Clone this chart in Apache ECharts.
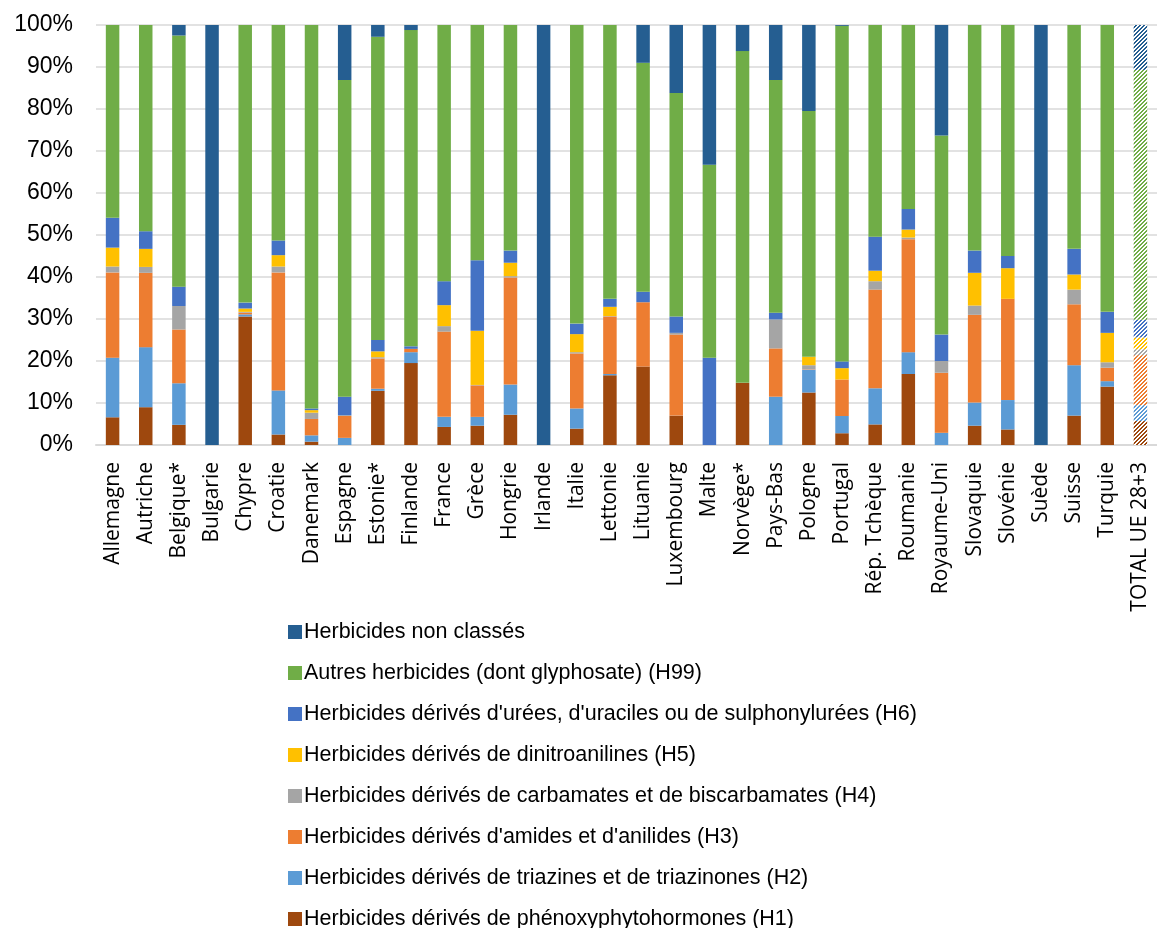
<!DOCTYPE html>
<html><head><meta charset="utf-8">
<script src="https://cdn.jsdelivr.net/npm/echarts@6/dist/echarts.min.js"></script>
<style>html,body{margin:0;padding:0;background:#fff}#c{width:1157px;height:928px}</style>
</head><body><div id="c"></div><script>
const categories = ['Allemagne','Autriche','Belgique*','Bulgarie','Chypre','Croatie','Danemark','Espagne','Estonie*','Finlande','France','Grèce','Hongrie','Irlande','Italie','Lettonie','Lituanie','Luxembourg','Malte','Norvège*','Pays-Bas','Pologne','Portugal','Rép. Tchèque','Roumanie','Royaume-Uni','Slovaquie','Slovénie','Suède','Suisse','Turquie','TOTAL UE 28+3'];
const yTicks = [0,10,20,30,40,50,60,70,80,90,100];

const nameH1 = 'Herbicides dérivés de phénoxyphytohormones (H1)';
const nameH2 = 'Herbicides dérivés de triazines et de triazinones (H2)';
const nameH3 = "Herbicides dérivés d'amides et d'anilides (H3)";
const nameH4 = 'Herbicides dérivés de carbamates et de biscarbamates (H4)';
const nameH5 = 'Herbicides dérivés de dinitroanilines (H5)';
const nameH6 = "Herbicides dérivés d'urées, d'uraciles ou de sulphonylurées (H6)";
const nameH99 = 'Autres herbicides (dont glyphosate) (H99)';
const nameNC = 'Herbicides non classés';

//            All  Aut  Bel  Bul  Chy  Cro  Dan  Esp  Est  Fin  Fra  Grè  Hon  Irl  Ita  Let  Lit  Lux  Mal  Nor  P-B  Pol  Por  Tch  Rou  R-U  Svq  Svn  Suè  Sui  Tur  TOT
const h1  = [6.6, 9.0, 4.8, 0, 30.6, 2.5, 0.8, 0, 12.9, 19.5, 4.3, 4.6, 7.2, 0, 3.9, 16.6, 18.7, 7.0, 0, 14.8, 0, 12.5, 2.8, 4.9, 16.9, 0, 4.6, 3.7, 0, 7.0, 13.9, 5.7];
const h2  = [14.2, 14.3, 9.9, 0, 0.5, 10.5, 1.5, 1.7, 0.5, 2.6, 2.4, 2.1, 7.2, 0, 4.8, 0.3, 0, 0, 0, 0, 11.5, 5.4, 4.1, 8.6, 5.2, 2.9, 5.5, 7.0, 0, 12.0, 1.3, 3.8];
const h3  = [20.3, 17.7, 12.8, 0, 0.4, 28.1, 3.9, 5.2, 7.2, 0.8, 20.3, 7.5, 25.5, 0, 13.1, 13.7, 15.3, 19.3, 0, 0, 11.5, 0.1, 8.7, 23.5, 26.9, 14.3, 20.9, 24.1, 0, 14.5, 3.2, 11.9];
const h4  = [1.4, 1.4, 5.6, 0, 0.2, 1.4, 1.5, 0.2, 0.3, 0, 1.3, 0.1, 0.3, 0, 0.3, 0.1, 0, 0.4, 0, 0, 6.9, 1.0, 0, 2.0, 0.4, 2.8, 2.2, 0, 0, 3.5, 1.3, 1.4];
const h5  = [4.5, 4.3, 0, 0, 0.8, 2.7, 0.6, 0, 1.4, 0, 5.0, 12.9, 3.2, 0, 4.3, 2.2, 0, 0, 0, 0, 0, 2.0, 2.7, 2.5, 1.9, 0, 7.8, 7.3, 0, 3.6, 7.0, 2.8];
const h6  = [7.1, 4.2, 4.6, 0, 1.4, 3.5, 0.4, 4.4, 2.7, 0.6, 5.7, 16.8, 2.9, 0, 2.5, 1.9, 2.5, 3.9, 20.8, 0, 1.6, 0, 1.6, 8.1, 4.9, 6.3, 5.3, 2.9, 0, 6.1, 5.0, 4.2];
const h99 = [45.9, 49.1, 59.8, 0, 66.1, 51.3, 91.3, 75.4, 72.2, 75.3, 61.0, 56.0, 53.7, 0, 71.1, 65.2, 54.5, 53.2, 45.9, 79.0, 55.4, 58.5, 79.9, 50.4, 43.8, 47.4, 53.7, 55.0, 0, 53.3, 68.3, 59.5];
const nc  = [0, 0, 2.5, 100, 0, 0, 0, 13.1, 2.8, 1.2, 0, 0, 0, 100, 0, 0, 9.0, 16.2, 33.3, 6.2, 13.1, 20.5, 0.2, 0, 0, 26.3, 0, 0, 100, 0, 0, 10.7];

const colors = {H1:'#9E480E', H2:'#5B9BD5', H3:'#ED7D31', H4:'#A5A5A5', H5:'#FFC000', H6:'#4472C4', H99:'#70AD47', NC:'#255E91'};

function hatch(color){
  const c = document.createElement('canvas');
  c.width = 4; c.height = 4;
  const ctx = c.getContext('2d');
  ctx.fillStyle = '#ffffff';
  ctx.fillRect(0,0,4,4);
  ctx.fillStyle = color;
  for (let x = 0; x < 4; x++) for (let y = 0; y < 4; y++) {
    if ((x + y) % 4 < 2) ctx.fillRect(x, y, 1, 1);
  }
  return {image: c, repeat: 'repeat'};
}

const lastIdx = categories.length - 1;
function mk(name, arr, key){
  return {
    name, type:'bar', stack:'s', barWidth: 13.5,
    itemStyle:{color: colors[key]},
    emphasis:{disabled:true},
    data: arr.map((v,i)=> i === lastIdx ? {value:v, itemStyle:{color: hatch(colors[key])}} : v)
  };
}

const chart = echarts.init(document.getElementById('c'), null, {renderer:'canvas'});
chart.setOption({
  animation:false,
  backgroundColor:'#fff',
  grid:{left:96, right:-9, top:25, bottom:483, containLabel:false},
  legend:{
    orient:'vertical', left:283, top:616, height:400,
    itemWidth:14, itemHeight:14, itemGap:19, icon:'rect',
    data:[nameNC, nameH99, nameH6, nameH5, nameH4, nameH3, nameH2, nameH1],
    textStyle:{fontFamily:'Liberation Sans', fontSize:21.5, color:'#000', lineHeight:22, padding:[0,0,0,-3]},
    selectedMode:false
  },
  xAxis:{
    type:'category', data:categories,
    axisLine:{lineStyle:{color:'#d9d9d9', width:2}},
    axisTick:{show:false},
    axisLabel:{interval:0, rotate:90, fontFamily:'Open Sans', fontSize:21, color:'#000', margin:17, padding:[0,0,10,0]}
  },
  yAxis:{
    type:'value', min:0, max:100, interval:10,
    axisLine:{show:false}, axisTick:{show:false},
    splitLine:{lineStyle:{color:'#d9d9d9', width:1.5}},
    axisLabel:{formatter: v => yTicks.includes(v) ? v + '%' : '', fontFamily:'Liberation Sans', fontSize:23, color:'#000', margin:23}
  },
  series:[
    mk(nameH1, h1, 'H1'), mk(nameH2, h2, 'H2'), mk(nameH3, h3, 'H3'), mk(nameH4, h4, 'H4'),
    mk(nameH5, h5, 'H5'), mk(nameH6, h6, 'H6'), mk(nameH99, h99, 'H99'), mk(nameNC, nc, 'NC')
  ]
});
</script></body></html>
